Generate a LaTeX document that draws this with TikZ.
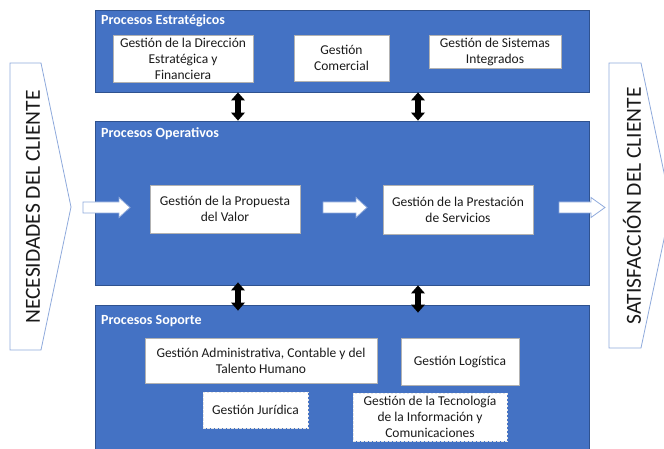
\documentclass[tikz,border=0pt]{standalone}
\usepackage{fontspec}
\setmainfont{Carlito}
\usetikzlibrary{arrows.meta}
\definecolor{laneblue}{HTML}{4472C4}
\definecolor{laneedge}{HTML}{2F528F}
\definecolor{chevedge}{HTML}{8FAADC}
\definecolor{ink}{HTML}{1A1A1A}

\begin{document}
\begin{tikzpicture}[x=1pt,y=-1pt,
  lane/.style={draw=laneedge, line width=0.8pt, fill=laneblue, rectangle, inner sep=0pt},
  lanetitle/.style={anchor=base west, text=white, inner sep=0pt,
    font=\fontsize{14}{17}\selectfont\bfseries},
  procbox/.style={rectangle, draw=black!30, line width=0.5pt, fill=white, align=center,
    inner sep=0pt, text=ink, font=\fontsize{13.5}{16}\selectfont},
  dashbox/.style={procbox, draw=white!80!gray, line width=0.8pt, dash pattern=on 2.5pt off 1.5pt},
  vlink/.style={line width=5.5pt, black,
    {Triangle[width=14pt,length=8pt,line width=0pt]}-{Triangle[width=14pt,length=8pt,line width=0pt]}},
  blockarrow/.style={draw=chevedge, fill=white, line width=0.8pt, line join=miter},
  chevron/.style={draw=chevedge, fill=white, line width=0.8pt},
  chevtext/.style={rotate=90, inner sep=0pt, text=ink, font=\fontsize{21.5}{24}\selectfont}
]
\useasboundingbox (0,0) rectangle (664,449);
\clip (0,0) rectangle (664,449);

% columns of the vertical links between the lanes
\coordinate (colL) at (238,0);
\coordinate (colR) at (418,0);

% side chevrons
\draw[chevron] (10,63) -- (41,63) -- (71,207) -- (41,350) -- (10,350) -- cycle;
\draw[chevron] (609,63) -- (641,63) -- (671,206) -- (641,348) -- (609,348) -- cycle;
\node[chevtext] (need) at (33,207) {NECESIDADES DEL CLIENTE};
\node[chevtext] (satis) at (632,206) {SATISFACCIÓN DEL CLIENTE};

% process lanes
\node[lane, minimum width=494pt, minimum height=82pt]  (est) at (342,51)  {};
\node[lane, minimum width=494pt, minimum height=164pt] (op)  at (342,203) {};
\node[lane, minimum width=494pt, minimum height=150pt] (sop) at (342,380) {};

\node[lanetitle] (estT) at (101,25)  {Procesos Estratégicos};
\node[lanetitle] (opT)  at (101,138) {Procesos Operativos};
\node[lanetitle] (sopT) at (101,324) {Procesos Soporte};

% strategic processes
\node[procbox, minimum width=140pt, minimum height=47pt] (dir) at (183,58.5)
  {Gestión de la Dirección\\Estratégica y\\Financiera};
\node[procbox, minimum width=95pt, minimum height=46pt] (com) at (341.5,58)
  {Gestión\\Comercial};
\node[procbox, minimum width=132pt, minimum height=33pt] (sis) at (495,51.5)
  {Gestión de Sistemas\\Integrados};

% operative processes
\node[procbox, minimum width=150pt, minimum height=48pt] (prop) at (225,209)
  {Gestión de la Propuesta\\del Valor};
\node[procbox, minimum width=150pt, minimum height=49pt] (serv) at (458,209.5)
  {Gestión de la Prestación\\de Servicios};

% support processes
\node[procbox, minimum width=232pt, minimum height=45pt] (adm) at (261,360.5)
  {Gestión Administrativa, Contable y del\\Talento Humano};
\node[procbox, minimum width=118pt, minimum height=47pt] (log) at (460,361.5)
  {Gestión Logística};
\node[dashbox, minimum width=105pt, minimum height=36pt] (jur) at (255.5,410)
  {Gestión Jurídica};
\node[dashbox, minimum width=154pt, minimum height=48pt] (tec) at (430,417)
  {Gestión de la Tecnología\\de la Información y\\Comunicaciones};

% links between lanes
\draw[vlink] (est.south -| colL) -- (op.north -| colL);
\draw[vlink] (est.south -| colR) -- (op.north -| colR);
\draw[vlink, shorten <=-3pt, shorten >=-6pt] (op.south -| colL) -- (sop.north -| colL);
\draw[vlink, shorten >=-8pt] (op.south -| colR) -- (sop.north -| colR);

% flow arrows through the operative lane
\foreach \xa/\xh/\xb in {83/119/130, 323/356/367, 559/591/605}{
  \draw[blockarrow] (\xa,202) -- (\xh,202) -- (\xh,197.5) -- (\xb,207.5)
    -- (\xh,217.5) -- (\xh,213) -- (\xa,213) -- cycle;
}
\end{tikzpicture}
\end{document}
